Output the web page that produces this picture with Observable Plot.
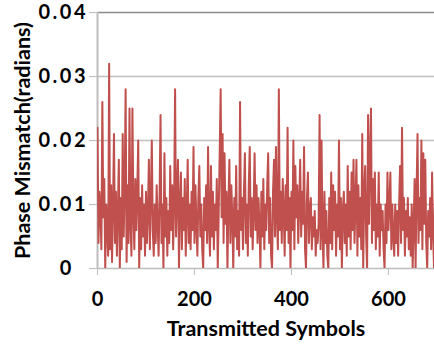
<!DOCTYPE html>
<html><head><meta charset="utf-8">
<script src="https://cdn.jsdelivr.net/npm/d3@7"></script>
<script src="https://cdn.jsdelivr.net/npm/@observablehq/plot@0.6"></script>
<style>
body{margin:0;background:#fff;}
#chart svg{display:block;}
#chart g[aria-label="y-axis tick label"] text{letter-spacing:2.5px;}
</style>
</head><body><div id="chart"></div>
<script>
// sample spacing (transmitted symbol index step between samples)
const symbolStep = 2;
// phase mismatch (radians), one sample every 2 symbols
const mismatch = [
0.022,0.004,0.012,0.009,0.003,0.026,0.008,0.014,0.000,0.010,
0.006,0.002,0.032,0.003,0.013,0.001,0.010,0.021,0.004,0.012,
0.002,0.009,0.017,0.000,0.011,0.003,0.021,0.005,0.012,0.028,
0.001,0.013,0.004,0.025,0.007,0.002,0.025,0.009,0.003,0.014,
0.006,0.012,0.020,0.000,0.011,0.003,0.013,0.005,0.010,0.002,
0.012,0.004,0.009,0.017,0.003,0.011,0.020,0.006,0.002,0.010,
0.004,0.013,0.007,0.002,0.011,0.024,0.004,0.010,0.000,0.018,
0.005,0.011,0.002,0.009,0.004,0.016,0.006,0.013,0.003,0.010,
0.028,0.005,0.012,0.017,0.000,0.010,0.015,0.003,0.011,0.006,
0.014,0.002,0.009,0.017,0.004,0.010,0.003,0.012,0.006,0.019,
0.004,0.013,0.007,0.002,0.011,0.016,0.005,0.010,0.003,0.000,
0.011,0.006,0.013,0.004,0.019,0.007,0.002,0.016,0.005,0.012,
0.003,0.010,0.006,0.014,0.000,0.009,0.018,0.028,0.008,0.021,
0.004,0.018,0.007,0.012,0.000,0.010,0.017,0.004,0.013,0.008,
0.000,0.011,0.005,0.016,0.003,0.009,0.002,0.026,0.006,0.011,
0.003,0.012,0.018,0.004,0.010,0.002,0.013,0.019,0.005,0.011,
0.003,0.009,0.018,0.006,0.013,0.004,0.011,0.007,0.000,0.012,
0.005,0.014,0.003,0.010,0.006,0.013,0.018,0.004,0.011,0.002,
0.000,0.012,0.017,0.005,0.019,0.008,0.003,0.028,0.006,0.012,
0.004,0.014,0.009,0.002,0.013,0.006,0.022,0.004,0.011,0.000,
0.012,0.006,0.020,0.003,0.016,0.008,0.013,0.004,0.010,0.017,
0.005,0.012,0.007,0.019,0.003,0.000,0.011,0.015,0.004,0.009,
0.011,0.003,0.008,0.005,0.009,0.002,0.006,0.004,0.007,0.024,
0.003,0.020,0.006,0.000,0.012,0.004,0.009,0.002,0.000,0.011,
0.004,0.015,0.003,0.013,0.006,0.012,0.002,0.010,0.005,0.020,
0.003,0.011,0.000,0.009,0.012,0.004,0.010,0.002,0.016,0.005,
0.012,0.003,0.015,0.006,0.017,0.004,0.010,0.017,0.002,0.013,
0.005,0.011,0.003,0.021,0.000,0.012,0.016,0.005,0.000,0.024,
0.007,0.017,0.025,0.004,0.014,0.006,0.015,0.003,0.010,0.005,
0.015,0.002,0.010,0.006,0.009,0.003,0.000,0.010,0.004,0.015,
0.006,0.010,0.015,0.003,0.010,0.005,0.002,0.010,0.004,0.009,
0.002,0.010,0.016,0.004,0.022,0.006,0.011,0.002,0.009,0.005,
0.011,0.003,0.008,0.002,0.010,0.000,0.007,0.014,0.000,0.012,
0.021,0.004,0.011,0.006,0.020,0.003,0.018,0.007,0.017,0.004,
0.000,0.009,0.005,0.011,0.003,0.015,0.006,0.000,0.010,0.019
];
const xTicks = [0, 200, 400, 600];
const yTicks = [0, 0.01, 0.02, 0.03, 0.04];
const xTitle = "Transmitted Symbols";
const yTitle = "Phase Mismatch(radians)";

const data = mismatch.map((v, i) => ({symbol: i * symbolStep, value: v}));

const chart = Plot.plot({
  width: 434,
  height: 344,
  marginLeft: 97,
  marginRight: 0,
  marginTop: 12,
  marginBottom: 76,
  style: {fontFamily: "Lato, 'Open Sans', sans-serif", fontWeight: "bold", fontSize: "20px", color: "#000", background: "#fff"},
  x: {domain: [0, 695]},
  y: {domain: [0, 0.04]},
  marks: [
    Plot.ruleY(yTicks.slice(1, 4), {stroke: "#c0c0c0", strokeWidth: 1.3}),
    Plot.ruleY([0.04], {stroke: "#8c8c8c", strokeWidth: 1.3}),
    Plot.ruleY([0], {stroke: "#bdbdbd", strokeWidth: 1.3}),
    Plot.ruleX([0], {stroke: "#bdbdbd", strokeWidth: 2}),
    Plot.lineY(data, {x: "symbol", y: "value", stroke: "#c0504d", strokeWidth: 2, clip: true}),
    Plot.axisY(yTicks, {tickSize: 8, tickPadding: 1.5, stroke: "#bdbdbd", fill: "#000",
      tickFormat: d => d === 0 ? "0\u2007" : d.toFixed(2),
      label: null}),
    Plot.axisY({label: yTitle, labelAnchor: "center", labelArrow: "none", labelOffset: 83,
      ticks: [], tickSize: 0, fill: "#000", fontSize: 21.5}),
    Plot.axisX(xTicks, {tickSize: 7, tickPadding: 16, stroke: "#bdbdbd", fill: "#000",
      label: null}),
    Plot.axisX({label: xTitle, labelAnchor: "center", labelArrow: "none", labelOffset: 67,
      ticks: [], tickSize: 0, fill: "#000", fontSize: 21.5})
  ]
});
document.getElementById("chart").append(chart);
</script>
</body></html>
